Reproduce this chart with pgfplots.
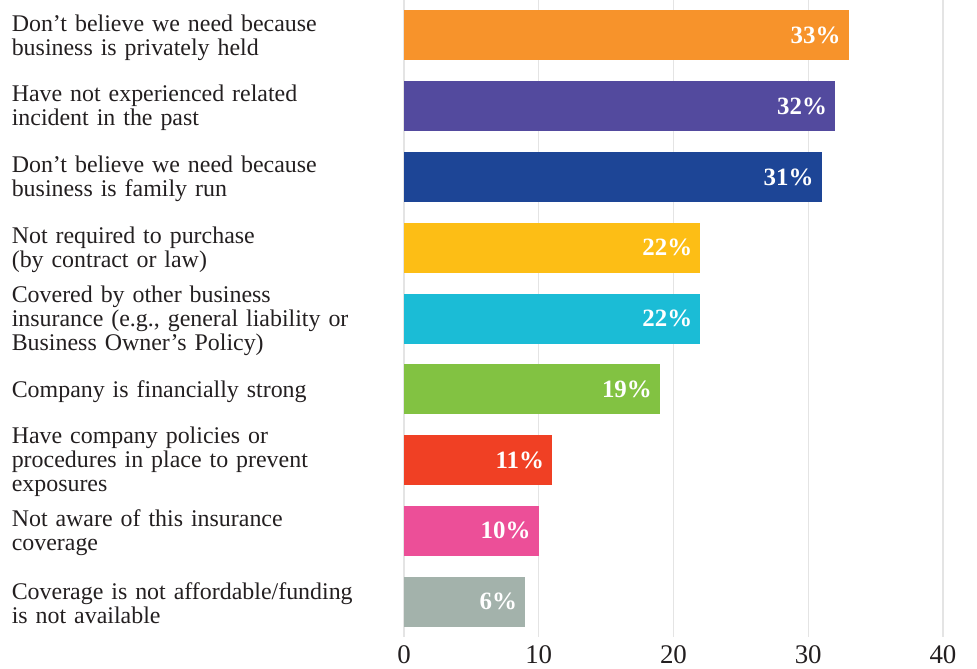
\documentclass[border=0pt]{standalone}
\usepackage{pgfplots}
\pgfplotsset{compat=1.18}
\usepackage{fontspec}
\setmainfont{Liberation Serif}

\definecolor{txt}{HTML}{231F20}
\definecolor{gridc}{HTML}{E4E4E4}
\definecolor{c1}{HTML}{F7932B}
\definecolor{c2}{HTML}{534A9E}
\definecolor{c3}{HTML}{1D4596}
\definecolor{c4}{HTML}{FDBE15}
\definecolor{c5}{HTML}{1BBCD6}
\definecolor{c6}{HTML}{82C242}
\definecolor{c7}{HTML}{F04024}
\definecolor{c8}{HTML}{EC4F98}
\definecolor{c9}{HTML}{A3B2AB}

\begin{document}
\begin{tikzpicture}
\begin{axis}[
    scale only axis,
    width=539bp, height=637bp,
    xmin=0, xmax=40, ymin=-0.5, ymax=8.5,
    xtick={0,10,...,40},
    ytick={0,...,8},
    yticklabels={
      {Coverage is not affordable/funding\\is not available},
      {Not aware of this insurance\\coverage},
      {Have company policies or\\procedures in place to prevent\\exposures},
      {Company is financially strong},
      {Covered by other business\\insurance (e.g., general liability or\\Business Owner’s Policy)},
      {Not required to purchase\\(by contract or law)},
      {Don’t believe we need because\\business is family run},
      {Have not experienced related\\incident in the past},
      {Don’t believe we need because\\business is privately held}},
    xmajorgrids,
    major grid style={draw=gridc, line width=1.3bp},
    axis line style={draw=none},
    major tick length=0pt,
    /pgf/number format/assume math mode=true,
    xticklabel style={anchor=north, inner sep=0pt, yshift=-8bp, text=txt,
      font=\fontsize{27}{27}\selectfont},
    yticklabel style={anchor=east, inner sep=0pt, text width=392bp, align=left,
      yshift=-2bp, text=txt, font=\fontsize{24}{24}\selectfont},
    xbar, bar width=50bp, bar shift=0pt,
    point meta=explicit symbolic,
    nodes near coords,
    every node near coord/.append style={anchor=east, xshift=-8bp, inner sep=0pt,
      text=white, font=\fontsize{25}{25}\bfseries\selectfont},
    clip=false,
]
\addplot[draw=none, fill=c1] coordinates {(33,8) [33\%]};
\addplot[draw=none, fill=c2] coordinates {(32,7) [32\%]};
\addplot[draw=none, fill=c3] coordinates {(31,6) [31\%]};
\addplot[draw=none, fill=c4] coordinates {(22,5) [22\%]};
\addplot[draw=none, fill=c5] coordinates {(22,4) [22\%]};
\addplot[draw=none, fill=c6] coordinates {(19,3) [19\%]};
\addplot[draw=none, fill=c7] coordinates {(11,2) [11\%]};
\addplot[draw=none, fill=c8] coordinates {(10,1) [10\%]};
\addplot[draw=none, fill=c9] coordinates {(9,0) [6\%]};
\coordinate (O) at (rel axis cs:0,0);
\end{axis}
\pgfresetboundingbox
\path[use as bounding box] ([xshift=-404bp,yshift=-32bp]O) rectangle ++(977bp,669bp);
\end{tikzpicture}
\end{document}
